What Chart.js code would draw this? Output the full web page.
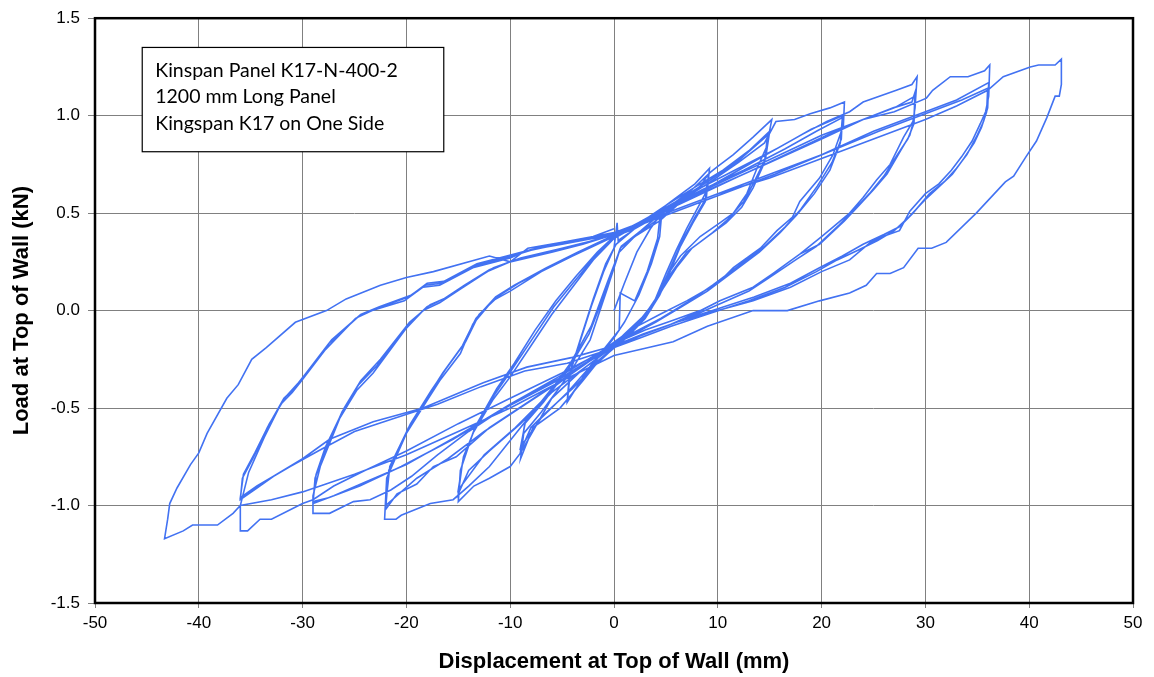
<!DOCTYPE html>
<html lang="en">
<head>
    <meta charset="UTF-8">
    <title>Kinspan Panel K17-N-400-2</title>
    <script src="https://cdn.jsdelivr.net/npm/chart.js"></script>
    <style>
        html, body { margin: 0; padding: 0; background: #fff; }
        #wallChart { display: block; }
    </style>
</head>
<body>
    <canvas id="wallChart" width="1154" height="677"></canvas>

    <script>
        // axis ticks
        const dispTicks = [-50, -40, -30, -20, -10, 0, 10, 20, 30, 40, 50];
        const loadTicks = [-1.5, -1.0, -0.5, 0.0, 0.5, 1.0, 1.5];

        // recorded path, [displacement mm, load kN], in test order
        const cyclesSmall = [
            [0, 0], [1, 0.14], [2.2, 0.3], [3.5, 0.42], [4.6, 0.5],
            [4.4, 0.38], [3.6, 0.24], [2.4, 0.08], [1, -0.06], [0, -0.14], [-1.5, -0.24], [-3, -0.35], [-4.5, -0.46],
            [-4.3, -0.33], [-3.4, -0.18], [-2.2, 0.02], [-1, 0.2], [0, 0.32], [0.3, 0.45], [0.4, 0.36], [1.5, 0.4], [3, 0.46], [4.5, 0.52],
            [4.2, 0.37], [3.2, 0.2], [2, 0.05], [0.6, 0.09], [0.5, -0.1], [-1, -0.2], [-2.5, -0.3], [-4.5, -0.47],
            [-4.2, -0.31], [-3.2, -0.14], [-2, 0.06], [-0.8, 0.24], [0.2, 0.34]
        ];

        const cycles9 = [
            [2, 0.42], [4, 0.5], [6, 0.58], [7.8, 0.65], [9.2, 0.73],
            [9, 0.62], [8, 0.52], [7, 0.42], [6, 0.31], [5, 0.19], [4, 0.06], [2.5, -0.06], [0.5, -0.17],
            [-1.5, -0.26], [-3, -0.36], [-5.2, -0.5], [-7.8, -0.6], [-9, -0.76],
            [-8.7, -0.63], [-7, -0.52], [-4.5, -0.34], [-2.3, -0.15], [-0.6, 0.12], [0.5, 0.3], [2, 0.38],
            [4.4, 0.46], [6.5, 0.56], [8.2, 0.63], [9.1, 0.7],
            [8.9, 0.58], [7.8, 0.48], [6.6, 0.36], [5.6, 0.24], [4.6, 0.12], [3.2, -0.02], [1.5, -0.12], [0, -0.19],
            [-2, -0.29], [-4, -0.4], [-6.5, -0.52], [-8, -0.6], [-9, -0.72],
            [-8.6, -0.58], [-6.8, -0.47], [-4.4, -0.3], [-2.4, -0.12], [-0.8, 0.1], [0.6, 0.32], [2.5, 0.4],
            [5, 0.5], [7, 0.58], [9, 0.67],
            [8.8, 0.56], [7.6, 0.45], [6.4, 0.33], [5.4, 0.2], [4.4, 0.08], [3, -0.04], [1.2, -0.14], [-0.5, -0.21],
            [-2.5, -0.3], [-4.5, -0.42], [-7, -0.55], [-9, -0.7],
            [-8.5, -0.56], [-6.5, -0.44], [-4.2, -0.27], [-2.2, -0.08], [-0.6, 0.15], [0.7, 0.33], [2.6, 0.41]
        ];

        const cycles15 = [
            [5, 0.52], [7.5, 0.62], [9.3, 0.71], [10, 0.74], [11.5, 0.8], [13.4, 0.89], [15.2, 0.98],
            [14.7, 0.84], [13.7, 0.72], [12.8, 0.6], [11.5, 0.5], [10.2, 0.45], [8.3, 0.38], [6.4, 0.28],
            [5.1, 0.18], [4.4, 0.08], [2.5, -0.05], [0.3, -0.17],
            [-3, -0.3], [-6, -0.45], [-9, -0.73], [-10, -0.8], [-12, -0.86], [-13.5, -0.9], [-15, -0.98],
            [-14.8, -0.82], [-13.6, -0.63], [-11.7, -0.46], [-10, -0.34], [-8, -0.18], [-6, -0.02], [-4, 0.12],
            [-2, 0.26], [0, 0.37], [2.5, 0.45], [5, 0.54], [8, 0.64], [10.5, 0.72], [13, 0.82], [15, 0.92],
            [14.6, 0.78], [13.5, 0.66], [12.5, 0.56], [11, 0.47], [9.5, 0.4], [7.5, 0.32], [6, 0.22], [4.8, 0.12],
            [3.5, 0], [1.5, -0.1], [0, -0.18], [-3, -0.3], [-6, -0.42], [-9, -0.58], [-12, -0.72], [-14, -0.82], [-15, -0.94],
            [-14.6, -0.78], [-13.4, -0.6], [-11.5, -0.43], [-9.8, -0.3], [-7.8, -0.14], [-5.8, 0.02], [-3.8, 0.15],
            [-1.8, 0.28], [0, 0.37], [3, 0.46], [6, 0.56], [9, 0.66], [12, 0.77], [14.8, 0.9],
            [14.5, 0.76], [13.4, 0.63], [12.3, 0.53], [10.8, 0.45], [9, 0.38], [7, 0.3], [5.6, 0.2], [4.5, 0.1],
            [3, -0.02], [1, -0.12], [-0.5, -0.2], [-3.5, -0.32], [-6.5, -0.44], [-9.5, -0.6], [-12.5, -0.74], [-15, -0.92],
            [-14.5, -0.75], [-13.2, -0.58], [-11.3, -0.4], [-9.6, -0.27], [-7.6, -0.1], [-5.6, 0.05], [-3.6, 0.18],
            [-1.6, 0.3], [0, 0.38]
        ];

        const cycles22 = [
            [3, 0.45], [6, 0.55], [9, 0.65], [12, 0.76], [14.5, 0.86], [15.6, 0.97], [17.4, 0.98], [18.9, 1.01],
            [20.8, 1.04], [22.2, 1.07],
            [22.1, 0.95], [21.1, 0.8], [19.8, 0.68], [17.9, 0.56], [17.2, 0.48], [15.7, 0.41], [14.1, 0.32],
            [11.5, 0.22], [10, 0.14], [7, 0.05], [4.4, -0.02], [1.9, -0.09], [0.3, -0.15],
            [-3, -0.28], [-6, -0.4], [-9, -0.6], [-12, -0.8], [-14, -0.9], [-15.5, -0.97], [-17.7, -0.99],
            [-20.5, -1.05], [-21, -1.07], [-22.1, -1.07],
            [-21.9, -0.86], [-20, -0.63], [-18, -0.46], [-16.8, -0.36], [-14.8, -0.22], [-13.6, -0.07],
            [-11.7, 0.05], [-10, 0.1], [-7, 0.2], [-4, 0.28], [-2, 0.33], [0, 0.38], [4, 0.5], [8, 0.62],
            [12, 0.73], [16, 0.84], [19, 0.93], [22, 1.0],
            [21.9, 0.88], [21, 0.76], [19.6, 0.64], [18, 0.52], [16.5, 0.43], [14.5, 0.33], [12, 0.23], [9.5, 0.13],
            [7, 0.04], [4.5, -0.04], [2, -0.11], [0, -0.17], [-4, -0.32], [-8, -0.46], [-12, -0.6], [-15.2, -0.75],
            [-17.4, -0.8], [-19, -0.89], [-20.9, -0.94], [-22, -1.02],
            [-21.7, -0.82], [-19.8, -0.6], [-17.8, -0.43], [-16.5, -0.32], [-14.6, -0.18], [-13.3, -0.04],
            [-11.4, 0.07], [-9.6, 0.13], [-6.5, 0.22], [-3.5, 0.3], [-1.5, 0.35], [0.5, 0.4], [4.5, 0.51],
            [8.5, 0.62], [12.5, 0.72], [16.5, 0.83], [19.5, 0.92], [22, 0.99],
            [21.8, 0.86], [20.8, 0.72], [19.3, 0.6], [17.6, 0.49], [16, 0.4], [14, 0.3], [11.5, 0.2], [9, 0.1],
            [6.5, 0.02], [4, -0.06], [1.5, -0.13], [-0.5, -0.19], [-4.5, -0.34], [-8.5, -0.48], [-12.5, -0.62],
            [-16, -0.76], [-19, -0.86], [-22, -1.0],
            [-21.6, -0.8], [-19.6, -0.58], [-17.6, -0.41], [-16.2, -0.3], [-14.3, -0.16], [-13, -0.02],
            [-11, 0.08], [-9.2, 0.14], [-6, 0.23], [-3, 0.31], [-1, 0.36]
        ];

        const cycles29 = [
            [2, 0.42], [6, 0.54], [10, 0.66], [14, 0.78], [18, 0.9], [20.5, 0.97], [22.7, 1.02], [24, 1.07],
            [27.2, 1.13], [28.7, 1.16], [29.2, 1.2],
            [29, 1.04], [28.8, 0.97], [27.9, 0.89], [26.6, 0.75], [25.3, 0.67], [24, 0.58], [22.7, 0.5],
            [20, 0.38], [17.9, 0.29], [15.3, 0.19], [13.4, 0.12], [10.2, 0.05], [8.3, 0], [5.7, -0.05],
            [3, -0.1], [0, -0.17],
            [-5, -0.33], [-10, -0.48], [-14, -0.62], [-17, -0.74], [-19.5, -0.85], [-21.5, -0.92],
            [-23.5, -0.97], [-25.1, -0.98], [-27.4, -1.04], [-29, -1.04],
            [-29, -0.95], [-28.3, -0.8], [-26.4, -0.55], [-24.8, -0.41], [-23.2, -0.32], [-20, -0.09],
            [-18.4, 0], [-16.8, 0.04], [-14.8, 0.11], [-12.2, 0.2], [-10, 0.25], [-6, 0.3], [-3, 0.34],
            [0, 0.39], [4, 0.49], [8, 0.6], [12, 0.7], [16, 0.8], [20, 0.9], [23, 0.96], [26.9, 1.04],
            [28.7, 1.07], [29, 1.12],
            [28.9, 0.98], [28.5, 0.9], [27.6, 0.82], [26.3, 0.7], [25, 0.62], [23.6, 0.54], [22.2, 0.46],
            [19.8, 0.34], [17.9, 0.29], [15.3, 0.19], [13.4, 0.12], [10.2, 0.05], [8, -0.01], [5.5, -0.07],
            [2.8, -0.12], [0, -0.18], [-5, -0.34], [-10, -0.48], [-15, -0.64], [-20, -0.79], [-24, -0.88],
            [-27, -0.95], [-29, -0.99],
            [-28.8, -0.86], [-28, -0.74], [-26.2, -0.52], [-24.6, -0.38], [-22.8, -0.28], [-20, -0.08],
            [-18, 0.02], [-16.4, 0.06], [-14.4, 0.13], [-12, 0.21], [-9.6, 0.26], [-5.6, 0.31], [-2.6, 0.35],
            [0.4, 0.4], [4.5, 0.5], [8.5, 0.6], [12.5, 0.7], [16.5, 0.8], [20.5, 0.9], [24, 0.98], [27, 1.04],
            [29, 1.1],
            [28.9, 0.96], [28.3, 0.88], [27.3, 0.8], [26, 0.69], [24.6, 0.6], [23.2, 0.52], [21.7, 0.44],
            [19.5, 0.33], [17.5, 0.26], [15, 0.17], [13, 0.1], [10, 0.03], [7.5, -0.03], [5, -0.08],
            [2.5, -0.13], [-0.5, -0.2], [-5.5, -0.36], [-10.5, -0.5], [-15.5, -0.66], [-20.5, -0.8],
            [-24.5, -0.9], [-27.5, -0.96], [-29, -0.98],
            [-28.7, -0.84], [-27.8, -0.7], [-26, -0.5], [-24.4, -0.36], [-22.5, -0.25], [-19.7, -0.06],
            [-17.7, 0.03], [-16, 0.07], [-14, 0.14], [-11.6, 0.22], [-9, 0.27], [-5, 0.32], [-2, 0.36]
        ];

        const cycles36 = [
            [1, 0.41], [5, 0.52], [10, 0.64], [15, 0.76], [20, 0.88], [24, 0.98], [27, 1.02], [30.1, 1.09],
            [30.7, 1.13], [32.4, 1.2], [34.1, 1.2], [35.7, 1.23], [36.2, 1.26],
            [36.1, 1.1], [35.8, 1.02], [35.3, 0.96], [34.5, 0.87], [33.5, 0.79], [32.5, 0.72], [31.3, 0.65],
            [30, 0.6], [28.5, 0.51], [27.5, 0.41], [25.9, 0.38], [24.7, 0.35], [22.7, 0.26], [20, 0.2],
            [17, 0.12], [13.4, 0.05], [10, 0], [6, -0.06], [3, -0.12], [0, -0.18],
            [-5, -0.32], [-10, -0.45], [-15, -0.58], [-20, -0.72], [-24, -0.82], [-27, -0.9], [-29, -0.97],
            [-30, -0.99], [-33, -1.07], [-34.1, -1.07], [-35.3, -1.13], [-36, -1.13],
            [-36, -1.0], [-35.2, -0.83], [-33.7, -0.65], [-32.1, -0.48], [-31, -0.42], [-30.1, -0.36],
            [-27.8, -0.2], [-24.9, -0.04], [-23.3, 0], [-20.2, 0.05], [-18.4, 0.12], [-16.8, 0.13],
            [-13.6, 0.22], [-10, 0.27], [-8.3, 0.31], [-5, 0.34], [0, 0.39], [5, 0.5], [10, 0.6], [15, 0.7],
            [20, 0.8], [25, 0.92], [30, 1.02], [33, 1.08], [36.1, 1.17],
            [36, 1.04], [35.6, 0.97], [35, 0.9], [34, 0.8], [33, 0.73], [31.8, 0.66], [30.4, 0.6], [28.8, 0.5],
            [27.5, 0.43], [26, 0.39], [24, 0.34], [22, 0.28], [19.8, 0.22], [17, 0.14], [13.5, 0.07], [10, 0.01],
            [6, -0.06], [3, -0.12], [0, -0.18], [-4, -0.24], [-8.4, -0.29], [-12.6, -0.37], [-18.4, -0.5],
            [-23.2, -0.57], [-27.4, -0.66], [-30, -0.76], [-32.8, -0.85], [-34.4, -0.91], [-36, -0.97],
            [-35.8, -0.86], [-34.8, -0.76], [-33.4, -0.6], [-31.8, -0.45], [-30.6, -0.39], [-29.8, -0.33],
            [-27.5, -0.17], [-24.6, -0.03], [-23, 0.01], [-19.8, 0.07], [-18.2, 0.13], [-16.6, 0.14],
            [-13.4, 0.23], [-9.8, 0.28], [-8, 0.31], [-4.5, 0.35], [0.5, 0.4], [5.5, 0.5], [10.5, 0.6],
            [15.5, 0.7], [20.5, 0.81], [25.5, 0.92], [30.5, 1.02], [33.5, 1.08], [36, 1.14],
            [35.9, 1.02], [35.4, 0.94], [34.7, 0.86], [33.7, 0.78], [32.6, 0.7], [31.4, 0.64], [30, 0.57],
            [28.4, 0.48], [27, 0.41], [25.4, 0.36], [23.5, 0.31], [21.5, 0.26], [19.5, 0.2], [16.5, 0.12],
            [13, 0.05], [9.5, -0.01], [5.5, -0.08], [2.5, -0.14], [-0.5, -0.2], [-4.5, -0.27], [-8.6, -0.31],
            [-12.8, -0.39], [-17, -0.48], [-21, -0.55], [-25, -0.62], [-28.5, -0.72], [-31.2, -0.8],
            [-34.4, -0.9], [-36, -0.96],
            [-35.7, -0.84], [-34.6, -0.73], [-33.2, -0.58], [-31.6, -0.44], [-30.4, -0.37], [-29.5, -0.31],
            [-27.2, -0.15], [-24.4, -0.02], [-22.6, 0.02], [-19.5, 0.08], [-18, 0.14], [-16.4, 0.15],
            [-13.2, 0.24], [-9.6, 0.29], [-7.5, 0.32], [-4, 0.36], [0, 0.4]
        ];

        const cycles43 = [
            [5, 0.5], [10, 0.6], [15, 0.68], [20, 0.78], [25, 0.88], [30, 0.98], [33, 1.05], [36, 1.13],
            [37.5, 1.2], [40.1, 1.25], [40.9, 1.26], [42.5, 1.26], [43.1, 1.29],
            [43.1, 1.16], [42.9, 1.1], [42.5, 1.1], [41.7, 0.99], [40.7, 0.87], [39.7, 0.79], [38.5, 0.69],
            [37.7, 0.66], [34.9, 0.5], [32, 0.35], [30.6, 0.32], [29.3, 0.32], [27.9, 0.22], [26.6, 0.19],
            [25.3, 0.19], [24.3, 0.13], [22.7, 0.09], [19.8, 0.05], [16.7, 0], [13.4, 0], [9, -0.08],
            [5.7, -0.16], [2.5, -0.2], [0, -0.23],
            [-5, -0.36], [-10, -0.5], [-15, -0.62], [-20, -0.74], [-25, -0.84], [-30, -0.93], [-33, -0.97],
            [-36, -1.0], [-36.7, -1.04], [-38.2, -1.1], [-40.6, -1.1], [-41.5, -1.13], [-43.3, -1.17],
            [-43, -1.07], [-42.8, -0.99], [-42.1, -0.91], [-40.8, -0.79], [-40, -0.73], [-39.2, -0.63],
            [-37.3, -0.45], [-36.2, -0.38], [-34.9, -0.25], [-33.5, -0.19], [-30.7, -0.06], [-27.7, 0],
            [-25.8, 0.06], [-22.5, 0.13], [-20, 0.17], [-17.4, 0.2], [-12, 0.28], [-10, 0.25], [-8.3, 0.32],
            [-5, 0.35], [-2, 0.38], [0, 0.42]
        ];

        const noteLines = [
            'Kinspan Panel K17-N-400-2',
            '1200 mm Long Panel',
            'Kingspan K17 on One Side'
        ];

        const loadPath = [].concat(cyclesSmall, cycles9, cycles15, cycles22, cycles29, cycles36, cycles43)
            .map(p => ({ x: p[0], y: p[1] }));

        // text box + black frame round the plot
        const framePlugin = {
            id: 'frameAndNote',
            afterDraw(chart) {
                const { ctx, chartArea, scales } = chart;
                const bx0 = scales.x.getPixelForValue(-45.45);
                const bx1 = scales.x.getPixelForValue(-16.4);
                const by0 = scales.y.getPixelForValue(1.35);
                const by1 = scales.y.getPixelForValue(0.815);
                ctx.save();
                ctx.fillStyle = '#fff';
                ctx.fillRect(bx0, by0, bx1 - bx0, by1 - by0);
                ctx.strokeStyle = '#000';
                ctx.lineWidth = 1.2;
                ctx.strokeRect(bx0, by0, bx1 - bx0, by1 - by0);
                ctx.fillStyle = '#000';
                ctx.font = '19.5px Lato';
                ctx.textBaseline = 'middle';
                noteLines.forEach((t, i) => ctx.fillText(t, bx0 + 13, by0 + 23 + i * 26.7));

                ctx.lineWidth = 2.5;
                ctx.strokeRect(chartArea.left, chartArea.top,
                    chartArea.right - chartArea.left, chartArea.bottom - chartArea.top);
                ctx.restore();
            }
        };

        new Chart(document.getElementById('wallChart'), {
            type: 'scatter',
            data: {
                datasets: [{
                    label: 'Load',
                    data: loadPath,
                    showLine: true,
                    borderColor: '#4272f2',
                    borderWidth: 1.6,
                    pointRadius: 0,
                    tension: 0,
                    fill: false
                }]
            },
            options: {
                responsive: false,
                animation: false,
                layout: { padding: { top: 18, right: 21, left: 0, bottom: 0 } },
                plugins: { legend: { display: false }, tooltip: { enabled: false } },
                scales: {
                    x: {
                        type: 'linear',
                        min: -50,
                        max: 50,
                        afterBuildTicks: s => { s.ticks = dispTicks.map(v => ({ value: v })); },
                        afterFit: s => { s.height = 74; },
                        ticks: {
                            color: '#000',
                            padding: 5,
                            font: { family: 'Liberation Sans, Arial', size: 17 }
                        },
                        grid: { color: '#808080', lineWidth: 1, tickLength: 5 },
                        border: { display: false },
                        title: {
                            display: true,
                            text: 'Displacement at Top of Wall (mm)',
                            color: '#000',
                            font: { family: 'Liberation Sans, Arial', size: 22, weight: 'bold' },
                            padding: { top: 0, bottom: 2 }
                        }
                    },
                    y: {
                        type: 'linear',
                        min: -1.5,
                        max: 1.5,
                        afterBuildTicks: s => { s.ticks = loadTicks.map(v => ({ value: v })); },
                        afterFit: s => { s.width = 95; },
                        ticks: {
                            color: '#000',
                            padding: 8,
                            font: { family: 'Liberation Sans, Arial', size: 17 },
                            callback: v => v.toFixed(1)
                        },
                        grid: { color: '#808080', lineWidth: 1, tickLength: 7 },
                        border: { display: false },
                        title: {
                            display: true,
                            text: 'Load at Top of Wall (kN)',
                            color: '#000',
                            font: { family: 'Liberation Sans, Arial', size: 22, weight: 'bold' },
                            padding: { top: 9, bottom: 0 }
                        }
                    }
                }
            },
            plugins: [framePlugin]
        });
    </script>
</body>
</html>
